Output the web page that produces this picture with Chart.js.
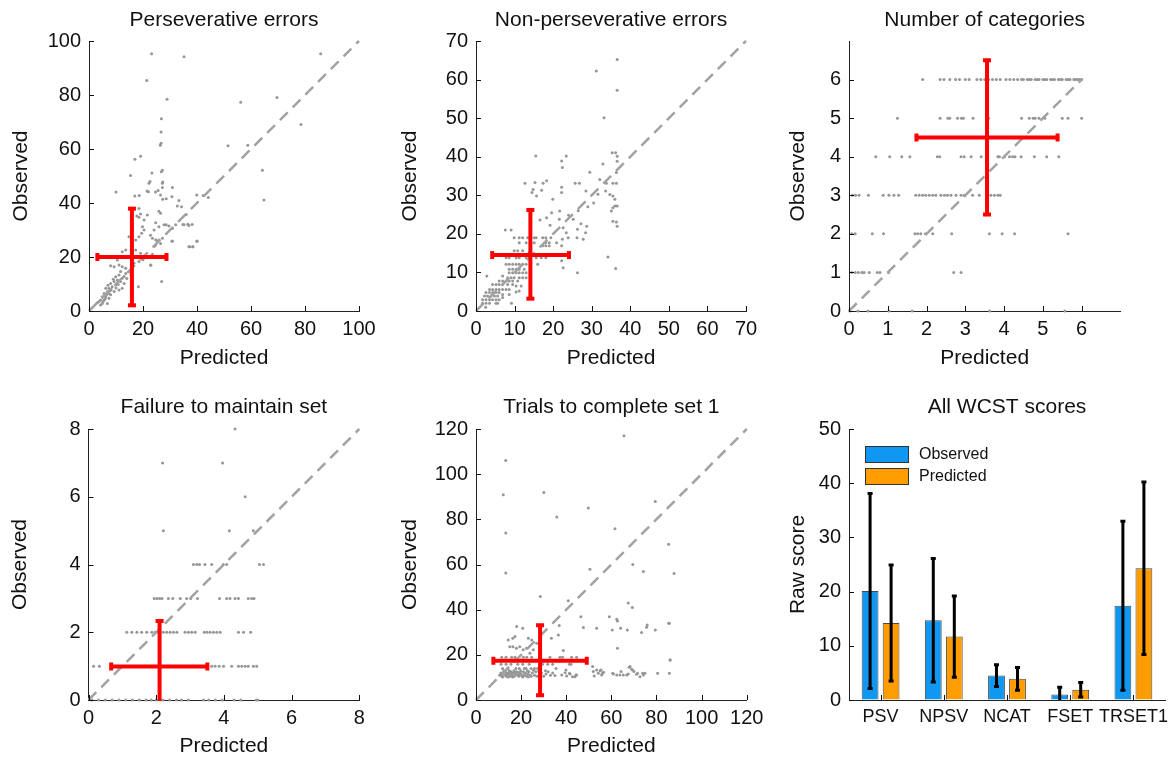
<!DOCTYPE html>
<html><head><meta charset="utf-8">
<script src="https://cdn.jsdelivr.net/npm/chart.js@4.4.1/dist/chart.umd.min.js"></script>
<style>
html,body{margin:0;padding:0;background:#fff;overflow:hidden;width:1175px;height:757px;}
canvas{position:absolute;}
</style></head><body>
<canvas id="c1" style="left:0px;top:0px" width="385" height="380"></canvas>
<canvas id="c2" style="left:390px;top:0px" width="385" height="380"></canvas>
<canvas id="c3" style="left:780px;top:0px" width="395" height="380"></canvas>
<canvas id="c4" style="left:0px;top:386px" width="385" height="371"></canvas>
<canvas id="c5" style="left:390px;top:386px" width="385" height="371"></canvas>
<canvas id="c6" style="left:780px;top:386px" width="395" height="371"></canvas>
<script>
// ---------------- DATA ----------------
// [predicted, observed] pairs
const psvPoints = [[23.2,95.3],[35.2,94.2],[21.4,85.4],[28.9,78.4],[56.2,77.3],[69.6,79.1],[85.8,95.3],[78.5,69.1],[26.8,71.2],[26.7,66.3],[26.7,62.1],[26.4,61.4],[51.5,61.2],[58.8,61.4],[64.2,52.1],[64.8,41.1],[17.0,56.2],[19.1,57.3],[15.4,50.2],[23.3,51.1],[27.2,52.1],[22.6,48.0],[27.3,47.8],[21.5,44.4],[24.6,44.1],[27.2,45.7],[10.0,44.1],[17.0,42.6],[18.6,42.8],[27.3,41.4],[30.7,42.3],[33.3,40.9],[39.9,43.0],[42.3,42.8],[44.2,42.0],[34.3,38.6],[39.9,25.8],[37.3,23.8],[38.4,23.8],[34.8,32.0],[36.6,32.1],[38.2,32.0],[30.7,25.8],[26.9,10.9],[22.9,16.9],[18.3,9.0],
[22.2,47.3],[22.0,44.2],[26.8,51.6],[27.2,47.3],[26.5,43.0],[25.6,44.6],[28.6,41.6],[30.9,45.7],[32.7,38.9],[36.0,35.7],
[18.5,38.0],[19.1,35.9],[18.5,34.7],[17.7,35.2],[20.4,33.7],[21.6,35.6],[25.9,36.9],[26.5,36.2],[24.7,32.7],[25.9,31.2],[24.1,30.0],[22.8,28.1],[23.5,26.9],[24.7,26.4],[25.3,25.7],[25.9,26.3],[27.2,26.9],[26.5,25.0],[24.7,24.4],[24.2,24.0],
[27.8,31.9],[28.6,31.9],[29.6,31.5],[30.9,30.6],[32.1,31.9],[30.9,25.9],[35.2,31.9],[37.0,31.7],[37.0,23.8],[38.5,23.8],[40.1,25.9],
[19.8,31.2],[20.4,30.0],[19.5,28.8],[18.5,27.5],[17.3,26.3],[16.0,23.8],[17.3,22.6],[19.1,21.4],[17.9,20.1],[18.5,18.3],[16.7,17.7],[14.8,27.5],[13.6,22.6],[12.3,21.9],[10.5,18.9],[11.1,17.0],[9.3,16.4],[8.0,16.8],
[12.3,16.4],[13.6,15.8],[11.7,14.6],[13.6,13.9],[14.8,14.6],[11.1,13.3],[9.9,12.7],[12.3,12.1],[10.5,11.5],[9.3,10.9],[8.0,10.2],[11.7,10.9],[13.0,10.2],[9.9,9.6],[8.6,9.0],[7.4,8.4],[6.2,8.4],[6.8,7.2],[5.6,6.5],[7.4,6.5],[9.3,7.2],[11.1,7.8],[12.3,8.4],[4.9,5.3],[6.2,5.3],[4.3,4.1],[5.6,4.1],[7.4,4.7],[3.7,3.5],[4.9,2.8],[6.8,2.8],[4.3,2.2],[3.1,3.1],[22.8,17.0],[21.0,20.5],[23.5,21.0],[20.0,19.0],
[6.5,6.0],[7.0,9.5],[8.2,8.0],[5.2,3.5],[6.0,4.5],[8.0,6.0],[10.0,8.5],[14.0,12.0],[15.5,13.5],[16.0,15.0],[13.0,12.8],[10.8,9.8],[7.8,7.5],[5.8,5.8],[9.0,11.8]];
const psvCrossX = [3.1, 15.9, 28.7];   // predicted: low, mean, high
const psvCrossY = [2.1, 20.0, 37.9];   // observed: low, mean, high

const npsvPoints = [[36.6,65.2],[31.2,62.2],[36.6,57.2],[33.2,50.1],[35.3,41.0],[36.2,41.0],[36.6,40.1],[36.6,38.8],[32.9,38.1],[36.4,35.9],[29.5,36.0],[32.1,34.1],[33.8,33.1],[35.5,33.1],[36.4,33.1],[33.6,31.1],[34.7,30.2],[35.5,29.8],[36.0,29.0],[36.0,27.2],[36.6,27.2],[35.5,26.8],[35.1,25.9],[35.5,23.3],[36.4,23.1],[36.6,22.0],[34.2,14.0],[36.2,11.0],[28.7,22.0],[28.4,20.3],[27.8,18.6],[26.2,19.0],[26.3,21.2],[23.9,19.0],[25.2,23.8],[26.3,9.9],[22.2,38.9],[22.4,37.2],[23.4,40.2],[15.5,40.2],[12.7,33.1],[15.3,33.3],[17.4,33.1],[18.3,33.8],[14.8,31.5],[14.5,30.7],[17.0,31.3],[15.7,29.8],[19.9,29.0],[22.2,32.1],[22.2,30.7],[19.6,25.5],[18.3,24.2],[16.6,23.6],[19.2,22.2],[21.7,25.9],[21.6,23.8],[22.6,21.6],[23.4,20.3],[22.4,18.6],[22.2,16.9],[20.9,17.7],[22.2,13.0],[22.6,11.2],[2.8,9.1],[9.2,2.0],
[25.7,33.1],[26.8,33.1],[28.5,31.1],[31.6,30.3],[30.5,28.0],[29.0,27.0],[26.5,26.0],[24.0,24.8],[27.2,22.6],
[7.6,21],[9.1,21],[9.9,19],[11.2,19],[12.1,19],[13.4,19],[15.1,19],[15.6,19],[17.3,19],[18.1,19],[19.4,19],
[11.2,17.7],[13.0,17.7],[15.1,17.7],[18.1,17.7],[19.0,17.7],[17.3,16.9],[18.1,16.9],[19.0,16.9],
[9.9,15.6],[10.8,15.6],[12.1,15.6],[13.8,15.2],
[7.8,13.8],[8.6,13.8],[10.4,13.8],[11.2,13.8],[13.0,13.8],[15.6,13.8],[16.9,13.8],[18.1,13.8],
[7.8,12.1],[8.6,12.1],[9.5,12.1],[10.4,12.1],[11.2,12.1],[12.1,12.1],[13.0,12.1],[16.0,12.1],
[8.6,10.8],[9.5,10.8],[10.4,10.8],[11.2,10.8],[12.5,10.8],
[8.6,9.9],[9.5,9.9],[10.4,9.9],[11.2,9.9],[12.1,9.9],[13.0,9.9],
[6.9,9.1],[8.2,8.6],[9.1,8.6],[9.9,8.6],[11.2,8.6],[12.1,8.6],[13.0,8.6],
[6.0,7.8],[6.9,7.8],[7.8,7.8],[8.6,7.8],[9.5,7.8],[10.8,7.8],
[4.3,6.9],[5.2,6.9],[6.0,6.9],[6.9,6.9],[8.2,6.9],[9.5,6.9],[10.4,6.5],[11.7,6.5],
[3.5,5.6],[4.3,5.6],[5.2,5.6],[6.0,5.6],[6.9,5.6],[7.8,5.6],[8.6,5.6],[11.2,5.2],
[2.6,4.8],[3.5,4.8],[4.3,4.8],[5.2,4.8],[6.0,4.8],[6.9,4.3],[8.6,4.3],[10.4,4.9],
[2.2,3.9],[3.0,3.9],[3.9,3.9],[4.8,3.9],[5.6,3.9],[6.9,3.5],
[1.7,2.9],[2.6,2.9],[3.5,2.9],[4.3,2.9],[5.2,2.9],[6.0,2.9],
[1.7,2.0],[2.6,2.0],[3.5,2.0],[5.2,2.0],[5.6,2.0],[2.5,1.0]];
const npsvCrossX = [4.2, 14.1, 24.1];
const npsvCrossY = [3.2, 14.5, 26.2];

const ncatPoints = [
[1.9,6],[2.35,6],[2.45,6],[2.6,6],[2.75,6],[2.85,6],[3.0,6],[3.1,6],[3.3,6],[3.4,6],[3.5,6],[3.6,6],[3.7,6],[3.8,6],[3.9,6],[4.05,6],[4.15,6],[4.25,6],[4.35,6],[4.45,6],[4.5,6],[4.6,6],[4.65,6],[4.7,6],[4.8,6],[4.85,6],[4.9,6],[5.0,6],[5.05,6],[5.1,6],[5.2,6],[5.25,6],[5.3,6],[5.4,6],[5.45,6],[5.5,6],[5.6,6],[5.65,6],[5.7,6],[5.8,6],[5.85,6],[5.9,6],[5.95,6],[6.0,6],
[1.25,5],[2.35,5],[2.55,5],[2.6,5],[2.8,5],[2.9,5],[2.95,5],[3.2,5],[3.6,5],[4.45,5],[4.65,5],[4.75,5],[4.8,5],[4.9,5],[5.05,5],[5.5,5],[5.65,5],[6.0,5],
[0.69,4],[1.05,4],[1.36,4],[1.57,4],[2.28,4],[2.34,4],[2.89,4],[2.97,4],[3.15,4],[3.41,4],[3.84,4],[3.88,4],[4.01,4],[4.14,4],[4.22,4],[4.28,4],[4.44,4],[4.78,4],[5.1,4],[5.41,4],
[0.09,3],[0.17,3],[0.26,3],[0.5,3],[0.88,3],[1.03,3],[1.16,3],[1.28,3],[1.72,3],[1.81,3],[1.9,3],[1.98,3],[2.07,3],[2.16,3],[2.24,3],[2.37,3],[2.46,3],[2.54,3],[2.63,3],[2.76,3],[2.89,3],[2.97,3],[3.19,3],[3.36,3],[3.66,3],[3.75,3],[3.84,3],[3.9,3],
[0.07,2],[0.16,2],[0.6,2],[0.89,2],[1.7,2],[1.77,2],[1.85,2],[1.97,2],[2.16,2],[2.65,2],[3.62,2],[3.95,2],[4.27,2],[5.65,2],
[0.07,1],[0.16,1],[0.24,1],[0.33,1],[0.39,1],[0.52,1],[0.73,1],[0.8,1],[1.02,1],[2.7,1],[2.89,1],
[0.02,0],[0.23,0],[0.49,0],[1.03,0],[1.63,0],[3.63,0],[5.57,0]];
const ncatCrossX = [1.74, 3.56, 5.38];
const ncatCrossY = [2.5, 4.5, 6.5];

const fsetPoints = [
[4.33,8],[2.19,7],[3.96,7],[4.63,6],[2.21,5],[4.16,5],[4.87,5],
[3.1,4],[3.2,4],[3.28,4],[3.44,4],[3.64,4],[3.98,4],[4.08,4],[5.05,4],[5.17,4],
[1.94,3],[2.02,3],[2.1,3],[2.17,3],[2.36,3],[2.49,3],[2.71,3],[2.9,3],[3.02,3],[3.22,3],[3.87,3],[4.08,3],[4.18,3],[4.33,3],[4.43,3],[4.72,3],[4.82,3],[4.89,3],
[1.13,2],[1.28,2],[1.43,2],[1.57,2],[1.72,2],[1.87,2],[1.97,2],[2.07,2],[2.21,2],[2.31,2],[2.41,2],[2.51,2],[2.61,2],[2.85,2],[2.95,2],[3.05,2],[3.15,2],[3.42,2],[3.5,2],[3.59,2],[3.69,2],[3.79,2],[3.89,2],[4.43,2],[4.58,2],[4.79,2],
[0.15,1],[0.32,1],[1.0,1],[1.5,1],[2.5,1],[3.0,1],[3.64,1],[3.74,1],[3.86,1],[3.99,1],[4.23,1],[4.43,1],[4.53,1],[4.63,1],[4.72,1],[4.87,1],[4.97,1],
[0.1,0],[0.3,0],[0.5,0],[0.7,0],[0.9,0],[1.1,0],[1.3,0],[1.5,0],[1.7,0],[1.85,0],[2.0,0],[2.2,0],[2.4,0],[2.6,0],[2.75,0],[2.95,0],[3.4,0],[3.55,0],[3.75,0],[3.95,0],[4.3,0],[4.5,0],[4.95,0],[5.0,0]];
const fsetCrossX = [0.67, 2.1, 3.51];
const fsetCrossY = [-0.35, 0.99, 2.33];

const trsetPoints = [[65.6,117.0],[13.2,106.0],[12.1,90.9],[30.1,91.9],[13.2,73.9],[13.2,56.2],[35.8,81.0],[49.8,85.0],[79.5,87.9],[61.6,75.8],[50.5,57.9],[69.5,60.0],[74.2,56.9],[85.4,69.0],[87.8,56.0],[28.5,45.8],[40.9,43.9],[67.5,42.9],[69.3,41.0],[46.5,36.9],[59.1,36.9],[62.4,35.8],[62.7,35.0],[47.6,32.1],[53.5,31.8],[60.4,31.0],[64.1,31.8],[67.1,31.0],[73.4,29.9],[75.6,32.2],[75.9,33.2],[79.5,31.0],[85.4,34.0],[62.7,22.9],[86.0,17.7],[36.5,28.8],[33.4,27.3],[18.0,32.5],[20.7,31.8],[16.3,27.3],[17.3,28.1],[14.3,26.6],[15.0,23.6],[16.4,23.6],[17.9,22.9],[19.4,23.6],[20.9,22.2],[22.4,22.9],[23.9,20.7],[25.4,22.2],[23.2,27.3],[24.7,26.6],[26.9,25.1],[28.4,24.4],[36.9,33.0],[38.7,21.9],
[11.4,18.9],[13.3,18.9],[15.8,18.9],[17.3,18.9],[21.0,18.9],[22.5,18.9],[24.7,18.9],[32.8,18.9],[37.2,18.9],[38.4,18.9],[42.4,18.9],[44.6,18.9],
[12.6,17.7],[14.8,17.7],[17.0,17.7],[19.9,17.7],
[11.1,15.8],[13.3,15.8],[15.5,15.8],[18.5,15.8],[20.7,15.8],[23.6,15.8],[29.5,15.8],[31.8,15.8],[34.0,15.8],[41.4,15.8],[42.1,15.8],
[11.8,14],[14.0,14],[17.7,14],[19.2,14],[21.4,14],[22.2,14],[24.4,14],[25.9,14],[27.3,14],[35.5,14],
[39.9,13.3],[41.4,11.8],[44.3,11.1],[42.8,10.3],[51.7,14.8],[55.4,13.3],[56.1,11.8],[52.4,10.6],[60.6,11.8],[64.3,12.6],[67.9,14.5],[69.4,13.3],[71.6,11.8],[73.9,11.8],[80.5,11.8],[85.7,11.8],[38.0,11.1],[39.5,12.1],[40.2,10.6],[41.7,11.5],[43.9,10.3],[44.6,11.1],[52.0,12.6],[53.5,13.3],[54.2,11.8],[55.0,12.9],[55.7,11.1],[56.5,12.3],[60.9,11.5],[62.4,11.1],[63.8,11.1],[65.3,11.1],[66.8,11.1],[67.5,11.5],[68.3,14.8],[69.0,13.6],[70.0,12.6],[71.2,11.4],[72.7,10.3],[74.2,11.1],[74.9,11.8],[86.1,17.7],[85.7,34.0],
[10.5,11.0],[11.0,12.0],[11.5,10.5],[12.0,11.5],[12.5,12.5],[13.0,11.0],[13.5,10.5],[14.0,12.0],[14.5,11.5],[15.0,10.5],[15.5,12.5],[16.0,11.0],[16.5,12.0],[17.0,10.5],[17.5,11.5],[18.0,12.5],[18.5,11.0],[19.0,10.5],[19.5,12.0],[20.0,11.5],[20.5,10.5],[21.0,12.5],[21.5,11.0],[22.0,12.0],[22.5,10.5],[23.0,11.5],[23.5,12.5],[24.0,11.0],[24.5,10.5],[25.0,12.0],[26.0,11.0],[26.5,12.5],[27.0,10.5],[28.0,11.5],[29.0,12.0],[30.0,10.5],[31.0,11.5],[32.0,12.5],[33.0,11.0],[34.0,12.0],[12.3,13.0],[14.8,13.0],[16.8,13.0],[19.8,13.0],[22.8,13.0],[25.5,13.2],[13.8,11.5],[15.8,11.5],[18.8,12.2],[11.8,10.2],[14.2,10.2],[16.2,10.2],[20.8,10.2],[23.2,10.2],[27.8,12.8],[30.8,13.0],[11.2,11.2],[13.2,12.2],[15.2,12.2],[17.2,12.2],[19.2,11.2],[21.2,11.2],[35.0,10.8]];
const trsetCrossX = [7.7, 28.4, 49.1];
const trsetCrossY = [2.1, 17.4, 33.1];

// tick labels
const psvTicks = [0,20,40,60,80,100];
const npsvTicks = [0,10,20,30,40,50,60,70];
const ncatTicks = [0,1,2,3,4,5,6];
const fsetTicks = [0,2,4,6,8];
const trsetTicks = [0,20,40,60,80,100,120];
const rawTicks = [0,10,20,30,40,50];

// bar panel
const scoreNames = ['PSV','NPSV','NCAT','FSET','TRSET1'];
const observedMean = [20.1, 14.7, 4.5, 1.0, 17.4];
const observedSD   = [18.0, 11.4, 2.0, 1.35, 15.6];
const predictedMean = [14.2, 11.7, 3.9, 1.9, 24.3];
const predictedSD   = [10.7, 7.5, 2.1, 1.35, 15.9];

// ---------------- RENDERING ----------------
const FONT = "'Liberation Sans', Arial, Helvetica, sans-serif";
Chart.defaults.font.family = FONT;
Chart.defaults.color = '#111';
Chart.defaults.animation = false;
Chart.defaults.events = [];
Chart.defaults.plugins.legend.display = false;
Chart.defaults.plugins.tooltip.enabled = false;

const fixTicks = vals => scale => { scale.ticks = vals.map(v => ({value: v})); };

const inTicks = {
  id: 'inTicks',
  afterDatasetsDraw(chart) {
    const ctx = chart.ctx, a = chart.chartArea;
    const xs = chart.scales.x, ys = chart.scales.y;
    ctx.save();
    ctx.strokeStyle = '#111'; ctx.lineWidth = 1;
    xs.ticks.forEach((t, i) => {
      const px = Math.round(xs.getPixelForTick(i)) + 0.5;
      ctx.beginPath(); ctx.moveTo(px, a.bottom); ctx.lineTo(px, a.bottom - 5); ctx.stroke();
    });
    ys.ticks.forEach((t, i) => {
      const py = Math.round(ys.getPixelForTick(i)) + 0.5;
      ctx.beginPath(); ctx.moveTo(a.left, py); ctx.lineTo(a.left + 5, py); ctx.stroke();
    });
    ctx.restore();
  }
};

function scales(g, xMax, yMax, xTicks, yTicks, xTitle, yTitle, xType) {
  return {
    x: {
      type: xType || 'linear', min: xType ? undefined : 0, max: xType ? undefined : xMax,
      afterBuildTicks: xType ? undefined : fixTicks(xTicks),
      afterFit(s) { s.height = g.xH; s.paddingLeft = 0; s.paddingRight = 0; },
      grid: {display: true, drawOnChartArea: false, drawTicks: false},
      border: {display: true, color: '#222', width: 1},
      ticks: {padding: 6, font: {size: g.xFont || 20}, maxRotation: 0, autoSkip: false, color: '#111'},
      title: {display: true, text: xTitle, color: '#111', font: {size: 21, lineHeight: 1}, padding: {top: 0, bottom: g.xtp}}
    },
    y: {
      type: 'linear', min: 0, max: yMax,
      afterBuildTicks: fixTicks(yTicks),
      afterFit(s) { s.width = g.yW; s.paddingTop = 0; s.paddingBottom = 0; },
      grid: {display: true, drawOnChartArea: false, drawTicks: false},
      border: {display: true, color: '#222', width: 1},
      ticks: {padding: 8, font: {size: 20}, autoSkip: false, color: '#111'},
      title: {display: true, text: yTitle, color: '#111', font: {size: 21, lineHeight: 1}, padding: {top: g.ytp, bottom: 0}}
    }
  };
}

function commonPlugins(g, title) {
  return {
    legend: {display: false}, tooltip: {enabled: false},
    title: {display: true, text: title, fullSize: false, color: '#111',
            font: {size: 21, weight: 'normal', lineHeight: 1.2}, padding: {top: g.tt, bottom: g.tb}}
  };
}

function scatterPanel(id, g, title, pts, cx, cy, diagMax, xMax, yMax, xTicks, yTicks) {
  const red = '#ff0000';
  new Chart(document.getElementById(id), {
    type: 'scatter',
    data: {
      datasets: [
        {data: [{x: cx[0], y: cy[1]}, {x: cx[2], y: cy[1]}], showLine: true,
         borderColor: red, borderWidth: 4, pointStyle: 'line', pointRotation: 90,
         pointRadius: 4, pointBorderWidth: 4, pointBorderColor: red, pointBackgroundColor: red, order: 0, clip: 1},
        {data: [{x: cx[1], y: cy[0]}, {x: cx[1], y: cy[2]}], showLine: true,
         borderColor: red, borderWidth: 4, pointStyle: 'line', pointRotation: 0,
         pointRadius: 4, pointBorderWidth: 4, pointBorderColor: red, pointBackgroundColor: red, order: 0, clip: 1},
        {data: [{x: 0, y: 0}, {x: diagMax, y: diagMax}], showLine: true,
         borderColor: '#a2a2a2', borderWidth: 2.5, borderDash: [11, 7], pointRadius: 0, order: 1, clip: 2},
        {data: pts.map(p => ({x: p[0], y: p[1]})), pointRadius: 1.5, borderWidth: 0,
         backgroundColor: '#969696', pointBackgroundColor: '#969696', order: 2, clip: 3}
      ]
    },
    options: {
      responsive: false, maintainAspectRatio: false, animation: false, events: [],
      layout: {padding: {left: 0, right: g.padR, top: 0, bottom: 0}},
      scales: scales(g, xMax, yMax, xTicks, yTicks, 'Predicted', 'Observed'),
      plugins: commonPlugins(g, title)
    },
    plugins: [inTicks]
  });
}

const row1 = {tt: 7.4, tb: 8.4, xH: 69, xtp: 11.5};
const row2 = {tt: 8.4, tb: 9.4, xH: 57, xtp: 0};

scatterPanel('c1', Object.assign({yW: 89, padR: 26, ytp: 10.5}, row1), 'Perseverative errors',
  psvPoints, psvCrossX, psvCrossY, 100, 100, 100, psvTicks, psvTicks);
scatterPanel('c2', Object.assign({yW: 86, padR: 29, ytp: 10.2}, row1), 'Non-perseverative errors',
  npsvPoints, npsvCrossX, npsvCrossY, 70, 70, 70, npsvTicks, npsvTicks);
scatterPanel('c3', Object.assign({yW: 69, padR: 54.6, ytp: 7.8}, row1), 'Number of categories',
  ncatPoints, ncatCrossX, ncatCrossY, 6, 7, 7, ncatTicks, ncatTicks);
scatterPanel('c4', Object.assign({yW: 88.5, padR: 25.7, ytp: 10.2}, row2), 'Failure to maintain set',
  fsetPoints, fsetCrossX, fsetCrossY, 8, 8, 8, fsetTicks, fsetTicks);
scatterPanel('c5', Object.assign({yW: 86, padR: 28.3, ytp: 10.2}, row2), 'Trials to complete set 1',
  trsetPoints, trsetCrossX, trsetCrossY, 120, 120, 120, trsetTicks, trsetTicks);

// bar panel
const sdArrays = [observedSD, predictedSD];
const errBars = {
  id: 'errBars',
  afterDatasetsDraw(chart) {
    const ctx = chart.ctx, ys = chart.scales.y, a = chart.chartArea;
    ctx.save();
    ctx.beginPath(); ctx.rect(a.left, a.top - 5, a.width, a.height + 5); ctx.clip();
    ctx.strokeStyle = '#000'; ctx.lineWidth = 3;
    chart.data.datasets.forEach((ds, i) => {
      const meta = chart.getDatasetMeta(i);
      meta.data.forEach((el, j) => {
        const m = ds.data[j], sd = sdArrays[i][j];
        const x = el.x;
        const y1 = ys.getPixelForValue(m - sd), y2 = ys.getPixelForValue(m + sd);
        ctx.beginPath();
        ctx.moveTo(x, y1); ctx.lineTo(x, y2);
        ctx.moveTo(x - 2.5, y1); ctx.lineTo(x + 2.5, y1);
        ctx.moveTo(x - 2.5, y2); ctx.lineTo(x + 2.5, y2);
        ctx.stroke();
      });
    });
    ctx.restore();
  }
};
const boxLegend = {
  id: 'boxLegend',
  afterDraw(chart) {
    const a = chart.chartArea, ctx = chart.ctx;
    ctx.save();
    ctx.font = "16px " + FONT;
    ctx.textBaseline = 'middle';
    chart.data.datasets.forEach((ds, i) => {
      const x = Math.round(a.left + 16) + 0.5, y = Math.round(a.top + 17 + i * 22) + 0.5;
      ctx.fillStyle = ds.backgroundColor; ctx.fillRect(x, y, 43, 16);
      ctx.strokeStyle = '#333'; ctx.lineWidth = 1; ctx.strokeRect(x, y, 43, 16);
      ctx.fillStyle = '#111'; ctx.fillText(ds.label, a.left + 70, y + 8);
    });
    ctx.restore();
  }
};
const g6 = Object.assign({yW: 69, padR: 10, ytp: 7.8, xFont: 18}, row2);
const barScales = scales(g6, null, 50, null, rawTicks, '', 'Raw score', 'category');
barScales.x.title = {display: false};
barScales.x.offset = true;
new Chart(document.getElementById('c6'), {
  type: 'bar',
  data: {
    labels: scoreNames,
    datasets: [
      {label: 'Observed', data: observedMean, backgroundColor: '#0f97f2', borderColor: '#4a4a4a', borderWidth: 1,
       barPercentage: 0.8, categoryPercentage: 0.665},
      {label: 'Predicted', data: predictedMean, backgroundColor: '#ff9c00', borderColor: '#4a4a4a', borderWidth: 1,
       barPercentage: 0.8, categoryPercentage: 0.665}
    ]
  },
  options: {
    responsive: false, maintainAspectRatio: false, animation: false, events: [],
    layout: {padding: {left: 0, right: g6.padR, top: 0, bottom: 0}},
    scales: barScales,
    plugins: commonPlugins(g6, 'All WCST scores')
  },
  plugins: [errBars, boxLegend, inTicks]
});
</script>
</body></html>
